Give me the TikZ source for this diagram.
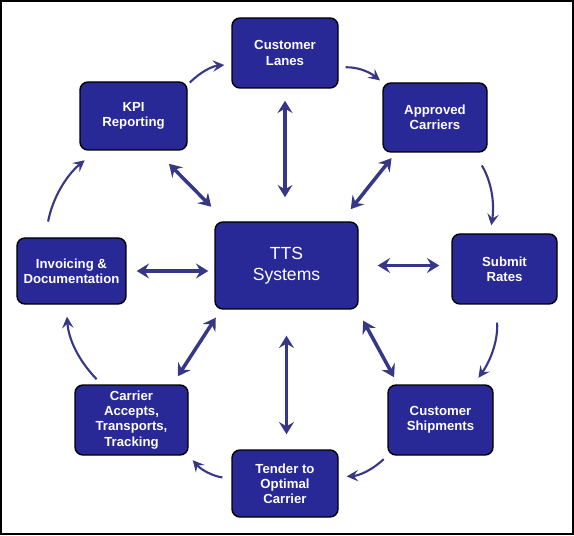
\documentclass[tikz,border=0pt]{standalone}
\usepackage{fontspec}
\setmainfont{Liberation Sans}
\usetikzlibrary{arrows.meta}
\definecolor{ttsblue}{RGB}{40,40,150}
\definecolor{arrowblue}{RGB}{55,55,135}
\tikzset{
  stage/.style={draw=black, line width=0.8pt, fill=ttsblue, rounded corners=4.5pt,
    text=white, font=\fontsize{7.5}{8.6}\selectfont\bfseries, align=center,
    minimum width=2.12cm, minimum height=1.4cm, inner sep=0pt},
  link/.style={draw=arrowblue, line width=2pt,
    {Stealth[length=7pt,width=8.5pt,inset=2.5pt]}-{Stealth[length=7pt,width=8.5pt,inset=2.5pt]}},
  flow/.style={draw=arrowblue, line width=1.2pt, -{Stealth[length=6.5pt,width=6.5pt,inset=2.5pt]}},
}

\begin{document}
\begin{tikzpicture}

% ---- frame ----
\useasboundingbox (0,0) rectangle (11.48,10.70);
\draw[line width=0.04cm] (0.02,0.02) rectangle (11.46,10.68);

% ---- the centre and the ring of stages ----
\node[stage, minimum width=2.86cm, minimum height=1.74cm,
  font=\fontsize{10}{12}\selectfont] (tts) at (5.73,5.39) {TTS\\Systems};
\node[stage] (lanes) at (5.70,9.64) {Customer\\Lanes};
\node[stage, minimum width=2.08cm, minimum height=1.38cm] (appr) at (8.70,8.35) {Approved\\Carriers};
\node[stage, minimum width=2.10cm] (rates) at (10.09,5.32) {Submit\\Rates};
\node[stage, minimum width=2.10cm] (ship) at (8.81,2.30) {Customer\\Shipments};
\node[stage, minimum height=1.34cm] (tender) at (5.70,1.03) {Tender to\\Optimal\\Carrier};
\node[stage, minimum width=2.26cm] (carr) at (2.63,2.30) {Carrier\\Accepts,\\Transports,\\Tracking};
\node[stage, minimum width=2.18cm, minimum height=1.32cm] (inv) at (1.43,5.28) {Invoicing \&\\Documentation};
\node[stage, minimum width=2.14cm, minimum height=1.36cm] (kpi) at (2.67,8.38) {KPI\\Reporting};

% ---- two-way links to the centre ----
\draw[link, shorten <=0.24cm, shorten >=0.48cm] (lanes.south) -- (lanes.south |- tts.north);
\draw[link, shorten <=0.14cm, shorten >=0.31cm] (appr.222) -- (tts.39);
\draw[link, shorten <=0.38cm, shorten >=0.24cm] (tts.east) -- (tts.east -| rates.west);
\draw[link, shorten <=0.25cm, shorten >=0.16cm] (tts.-32) -- (ship.140);
\draw[link, shorten <=0.52cm, shorten >=0.30cm] (tts.south) -- (tts.south |- tender.north);
\draw[link, shorten <=0.19cm, shorten >=0.19cm] (carr.41) -- (tts.214);
\draw[link, shorten <=0.20cm, shorten >=0.12cm] (inv.east) -- (inv.east -| tts.west);
\draw[link, shorten <=0.37cm, shorten >=0.41cm] (kpi.-57) -- (tts.144);

% ---- clockwise flow round the ring ----
\draw[flow, shorten <=0.06cm, shorten >=0.14cm] (kpi.30) to[bend left=20] (lanes.192);
\draw[flow, shorten <=0.14cm, shorten >=0.06cm] (lanes.-15) to[bend left=20] (appr.north west);
\draw[flow, shorten <=0.30cm, shorten >=0.16cm] (appr.-42) to[bend left=20] (rates.112);
\draw[flow, shorten <=0.36cm, shorten >=0.16cm] (rates.-104) to[bend left=20] (ship.47);
\draw[flow, shorten <=0.10cm, shorten >=0.16cm] (ship.south west) to[bend left=20] (tender.7);
\draw[flow, shorten <=0.18cm, shorten >=0.12cm] (tender.175) to[bend left=20] (carr.south east);
\draw[flow, shorten <=0.14cm, shorten >=0.24cm] (carr.130) to[bend left=20] (inv.-99);
\draw[flow, shorten <=0.32cm, shorten >=0.30cm] (inv.128) to[bend left=20] (kpi.-137);

\end{tikzpicture}
\end{document}
